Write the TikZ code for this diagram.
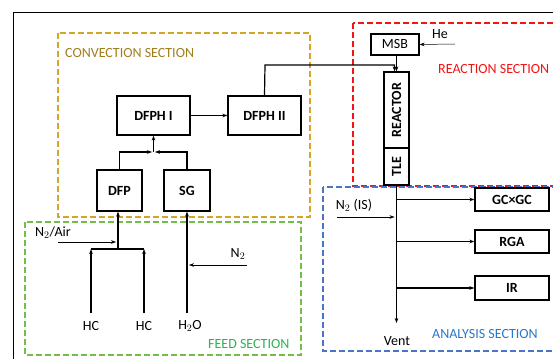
\documentclass[tikz,border=0pt]{standalone}
\usepackage{fontspec}
\setmainfont{Carlito}
\usepackage{tikz}
\usetikzlibrary{positioning, calc, arrows.meta}

\definecolor{convgold}{RGB}{212,165,40}
\definecolor{convtext}{RGB}{160,125,30}
\definecolor{reacred}{RGB}{245,20,20}
\definecolor{feedgreen}{RGB}{115,190,75}
\definecolor{feedtext}{RGB}{40,180,80}
\definecolor{anablue}{RGB}{75,115,200}
\definecolor{anatext}{RGB}{40,120,200}

\begin{document}
\begin{tikzpicture}[x=1pt, y=-1pt, >={Stealth[length=5pt,width=3.6pt]},
    box/.style={draw, line width=1.2pt, font=\bfseries\fontsize{14}{16}\selectfont, inner sep=0pt},
    sec/.style={line width=1.3pt, dash pattern=on 6pt off 3pt},
    flow/.style={->, line width=1.2pt},
    feed/.style={->, line width=0.5pt},
    lbl/.style={font=\fontsize{14}{16}\selectfont}]
    \useasboundingbox (0,0) rectangle (553,358);

    % Outer frame
    \draw[line width=0.9pt] (13,360) -- (13,12) -- (555,12);

    % Sections
    \draw[sec, convgold] (58,33) rectangle (310,217);
    \draw[sec, reacred] (353,23) rectangle (560,186);
    \draw[sec, feedgreen] (25,222) rectangle (301,355);
    \draw[sec, anablue] (323,187) rectangle (560,351);
    \node[lbl, convtext, anchor=west, inner sep=0pt] (convlbl) at (65,53) {CONVECTION SECTION};
    \node[lbl, reacred, anchor=west, inner sep=0pt] (reaclbl) at (438,69) {REACTION SECTION};
    \node[lbl, feedtext, anchor=west, inner sep=0pt] (feedlbl) at (208,344) {FEED SECTION};
    \node[lbl, anatext, anchor=west, inner sep=0pt] (analbl) at (432,334) {ANALYSIS SECTION};

    % Convection units
    \node[box, minimum width=73pt, minimum height=39pt] (dfph1) at (153.5,115.5) {DFPH I};
    \node[box, minimum width=73pt, minimum height=39pt] (dfph2) at (264.5,115.5) {DFPH II};
    \node[box, minimum width=45pt, minimum height=41pt] (dfp) at (119.5,190.5) {DFP};
    \node[box, minimum width=46pt, minimum height=41pt] (sg) at (187,190.5) {SG};

    % Reaction units
    \node[box, font=\fontsize{14}{16}\selectfont, minimum width=48pt, minimum height=21pt] (msb) at (395,44.5) {MSB};
    \node[box, minimum width=76pt, minimum height=25pt, rotate=90] (reactor) at (396.5,110) {REACTOR};
    \node[box, minimum width=37pt, minimum height=25pt, rotate=90] (tle) at (396.5,166.5) {TLE};

    % Analysis units
    \node[box, minimum width=74pt, minimum height=23pt] (gcgc) at (512,199.5) {GC×GC};
    \node[box, minimum width=74pt, minimum height=23pt] (rga) at (512,241.5) {RGA};
    \node[box, minimum width=74pt, minimum height=24pt] (ir) at (512,288) {IR};

    % Feed labels
    \node[lbl] (hca) at (91,326) {HC};
    \node[lbl] (hcb) at (144,326) {HC};
    \node[lbl] (water) at (190,326) {H$_2$O};
    \node[lbl] (vent) at (397,341) {Vent};
    \node[lbl] (he) at (440,34) {He};
    \node[lbl] (n2air) at (53,233) {N$_2$/Air};
    \node[lbl] (n2) at (238,254) {N$_2$};
    \node[lbl] (n2is) at (354,205) {N$_2$ (IS)};

    % Junctions
    \coordinate (mix) at (153.5,152);
    \coordinate (hcjoin) at (118,249);
    \coordinate (rtop) at (265,65);
    \coordinate (tap) at (396.5,323);
    \coordinate (airin) at (58,242);
    \coordinate (n2in) at (247,265);
    \coordinate (hein) at (455,44);
    \coordinate (isin) at (337,217);

    % Feed lines
    \draw[flow] (hca.north |- 0,313) -- (hca.north |- hcjoin);
    \draw[flow] (hcb.north |- 0,313) -- (hcb.north |- hcjoin);
    \draw[line width=1.2pt] (hca.north |- hcjoin) -- (hcb.north |- hcjoin);
    \draw[flow] (hcjoin) -- (hcjoin |- dfp.south);
    \draw[flow] (sg.south |- 0,313) -- (sg.south);
    \draw[feed] (airin) -- ($(hcjoin |- airin)+(-2,0)$);
    \draw[feed] (n2in) -- ($(sg.south |- n2in)+(2,0)$);

    % Convection lines
    \draw[flow] (dfp.north) |- ($(mix)+(-1.5,0)$);
    \draw[flow] (sg.north) |- ($(mix)+(1.5,0)$);
    \draw[flow] (mix) -- (dfph1.south);
    \draw[flow] (dfph1) -- (dfph2);
    \draw[flow] (dfph2.north) -- (rtop) -| ($(reactor.east)+(-2,0)$);

    % Reaction and analysis lines
    \draw[feed] (hein) -- (msb.east);
    \draw[flow] (msb.south -| reactor.east) -- (reactor.east);
    \draw[flow] (tle.west) -- (tap);
    \draw[feed] (isin) -- ($(isin -| tap)+(-2,0)$);
    \draw[flow] (gcgc.west -| tap) -- (gcgc.west);
    \draw[flow] (rga.west -| tap) -- (rga.west);
    \draw[flow] (ir.west -| tap) -- (ir.west);
\end{tikzpicture}
\end{document}
